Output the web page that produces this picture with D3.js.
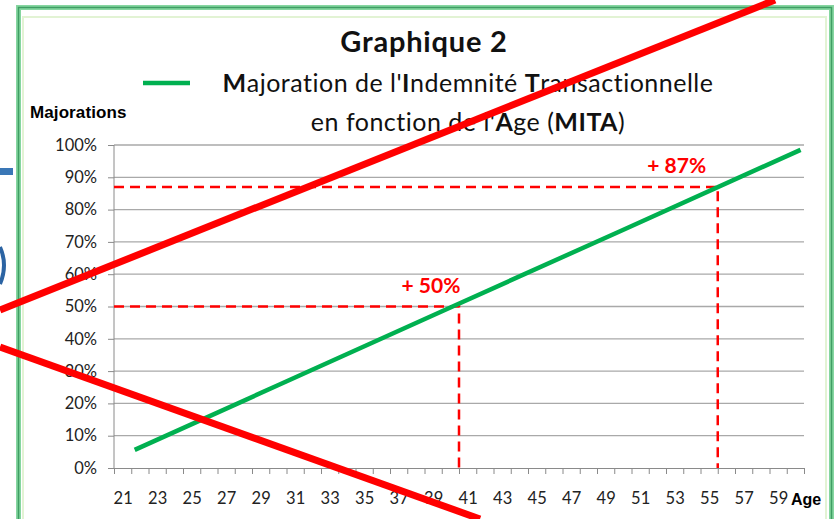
<!DOCTYPE html>
<html>
<head>
<meta charset="utf-8">
<script src="https://cdn.jsdelivr.net/npm/d3@7"></script>
<style>
  body { margin: 0; background: #fff; }
  svg { display: block; }
  text { font-variant-ligatures: none; }
  .y.axis text, .x.labels text { font-family: Lato, "Open Sans", sans-serif; font-size: 16.5px; fill: #222; }
  .axis path, .axis line { stroke: #8a8a8a; }
</style>
</head>
<body>
<div id="chart"></div>
<script>
/* Graphique 2 - MITA */

//* Data *//
var ages = d3.range(21, 61);                   // categories on the x axis
var ageLabels = [21, 23, 25, 27, 29, 31, 33, 35, 37, 39, 41, 43, 45, 47, 49, 51, 53, 55, 57, 59];
var yTicks = [0, 0.1, 0.2, 0.3, 0.4, 0.5, 0.6, 0.7, 0.8, 0.9, 1];

// green line (age, majoration)
var mitaAges   = [21.7, 30, 40, 50, 60.3];
var mitaValues = [0.056, 0.256, 0.497, 0.737, 0.985];

// dashed markers
var markAges   = [40.5, 55.5];
var markValues = [0.50, 0.87];
var markLabels = ["+ 50%", "+ 87%"];

//* Chart code *//
var W = 836, H = 519;
var svg = d3.select("#chart").append("svg")
    .attr("width", W)
    .attr("height", H);

var plotLeft = 114, plotRight = 804, plotTop = 145, plotBottom = 468;

// scales
var x = d3.scaleLinear()
    .domain([ages[0] - 0.5, ages[ages.length - 1] + 0.5])
    .range([plotLeft, plotRight]);

var y = d3.scaleLinear()
    .domain([0, 1])
    .range([plotBottom, plotTop]);

// blue bits of the slide behind
svg.append("rect")
    .attr("x", 0).attr("y", 168).attr("width", 13).attr("height", 7)
    .attr("fill", "#3a77b6");
svg.append("path")
    .attr("d", "M0,247 Q8,265 0,284")
    .attr("fill", "none")
    .attr("stroke", "#2c64a3")
    .attr("stroke-width", 4);

// frame
svg.append("rect")
    .attr("x", 18.5).attr("y", 7.5).attr("width", 813).attr("height", 600)
    .attr("fill", "#fff")
    .attr("stroke", "#86d6a0")
    .attr("stroke-width", 5);
svg.append("rect")
    .attr("x", 18.5).attr("y", 7.5).attr("width", 813).attr("height", 600)
    .attr("fill", "none")
    .attr("stroke", "#3f9e63")
    .attr("stroke-width", 1.5);
svg.append("rect")
    .attr("x", 23).attr("y", 17).attr("width", 803).attr("height", 600)
    .attr("fill", "none")
    .attr("stroke", "#e2f3d4")
    .attr("stroke-width", 2);

// gridlines
svg.append("g")
    .selectAll("line")
    .data(yTicks.slice(1))
    .enter().append("line")
    .attr("x1", plotLeft).attr("x2", plotRight)
    .attr("y1", function(d) { return y(d); })
    .attr("y2", function(d) { return y(d); })
    .attr("stroke", "#a9a9a9")
    .attr("stroke-width", 1.3);

// Y axis
var yAxisCall = d3.axisLeft(y)
    .tickValues(yTicks)
    .tickFormat(d3.format(".0%"))
    .tickSize(6)
    .tickPadding(11);
var yAxisApp = svg.append("g")
    .attr("class", "y axis")
    .attr("transform", "translate(" + plotLeft + ",0)")
    .call(yAxisCall);
yAxisApp.select(".domain").attr("d", "M0," + plotBottom + "V" + plotTop);

// X axis (tick marks between categories)
var xAxisCall = d3.axisBottom(x)
    .tickValues(d3.range(ages[0] - 0.5, ages[ages.length - 1] + 1, 1))
    .tickFormat("")
    .tickSize(6)
    .tickSizeOuter(0);
svg.append("g")
    .attr("class", "x axis")
    .attr("transform", "translate(0," + plotBottom + ")")
    .call(xAxisCall);

// X labels on every other category
var xLabelCall = d3.axisBottom(x)
    .tickValues(ageLabels)
    .tickFormat(d3.format("d"))
    .tickSize(0)
    .tickPadding(24);
var xLab = svg.append("g")
    .attr("class", "x labels")
    .attr("transform", "translate(0," + plotBottom + ")")
    .call(xLabelCall);
xLab.select(".domain").remove();

// axis titles
svg.append("text")
    .attr("x", 30).attr("y", 118)
    .attr("font-family", "Liberation Sans, Arial, sans-serif")
    .attr("font-weight", "bold")
    .attr("font-size", "17px")
    .attr("letter-spacing", "0.1")
    .text("Majorations");

svg.append("text")
    .attr("x", 791).attr("y", 505)
    .attr("font-family", "Liberation Sans, Arial, sans-serif")
    .attr("font-weight", "bold")
    .attr("font-size", "16px")
    .text("Age");

// dashed markers
var labelShift = [-28, -41];
var marks = svg.append("g");
markAges.forEach(function(a, i) {
    marks.append("path")
        .attr("d", "M" + plotLeft + "," + y(markValues[i]) + "H" + x(a) + "V" + plotBottom)
        .attr("fill", "none")
        .attr("stroke", "#ff0000")
        .attr("stroke-width", 2.5)
        .attr("stroke-dasharray", "10,6");
    marks.append("text")
        .attr("x", x(a) + labelShift[i])
        .attr("y", y(markValues[i]) - 14)
        .attr("text-anchor", "middle")
        .attr("font-family", "Lato, sans-serif")
        .attr("font-weight", "bold")
        .attr("font-size", "21px")
        .attr("fill", "#ff0000")
        .text(markLabels[i]);
});

// MITA line
var line = d3.line()
    .x(function(d) { return x(d[0]); })
    .y(function(d) { return y(d[1]); });

svg.append("path")
    .datum(mitaAges.map(function(a, i) { return [a, mitaValues[i]]; }))
    .attr("d", line)
    .attr("fill", "none")
    .attr("stroke", "#00b050")
    .attr("stroke-width", 4.5);

// title
svg.append("text")
    .attr("x", 424).attr("y", 52)
    .attr("text-anchor", "middle")
    .attr("font-family", "Lato, sans-serif")
    .attr("font-weight", "bold")
    .attr("font-size", "29px")
    .attr("letter-spacing", "0.8")
    .attr("fill", "#111")
    .text("Graphique 2");

// legend
svg.append("line")
    .attr("x1", 143).attr("x2", 190)
    .attr("y1", 83).attr("y2", 83)
    .attr("stroke", "#00b050")
    .attr("stroke-width", 4.5);

function richText(yy, parts) {
    var t = svg.append("text")
        .attr("x", 468).attr("y", yy)
        .attr("text-anchor", "middle")
        .attr("font-family", "Lato, sans-serif")
        .attr("font-size", "25px")
        .attr("letter-spacing", "0.5")
        .attr("fill", "#111");
    parts.forEach(function(p) {
        t.append("tspan")
            .attr("font-weight", p[1] ? "bold" : "normal")
            .text(p[0]);
    });
}
richText(92, [["M", 1], ["ajoration de l'", 0], ["I", 1], ["ndemnité ", 0], ["T", 1], ["ransactionnelle", 0]]);
richText(131, [["en fonction de l'", 0], ["A", 1], ["ge (", 0], ["MITA", 1], [")", 0]]);

// red strikes over the picture
svg.append("line")
    .attr("x1", 0).attr("y1", 310).attr("x2", 775).attr("y2", 0)
    .attr("stroke", "#ff0000")
    .attr("stroke-width", 7);
svg.append("line")
    .attr("x1", 0).attr("y1", 347).attr("x2", 480).attr("y2", 519)
    .attr("stroke", "#ff0000")
    .attr("stroke-width", 7);
</script>
</body>
</html>
